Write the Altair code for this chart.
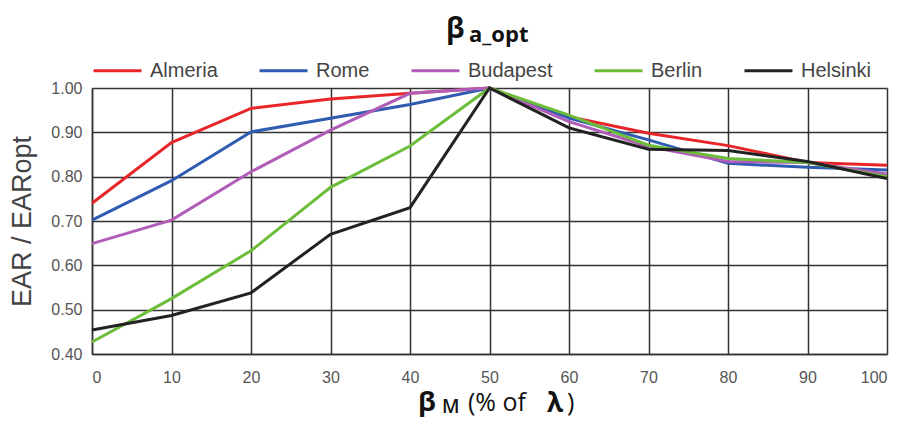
import altair as alt
import pandas as pd

x_vals = [0, 10, 20, 30, 40, 50, 60, 70, 80, 90, 100]
cities = ["Almeria", "Rome", "Budapest", "Berlin", "Helsinki"]
almeria = [0.740, 0.877, 0.954, 0.975, 0.988, 1.000, 0.935, 0.898, 0.870, 0.832, 0.826]
rome = [0.702, 0.791, 0.901, 0.932, 0.963, 1.000, 0.932, 0.883, 0.830, 0.821, 0.815]
budapest = [0.649, 0.702, 0.811, 0.905, 0.988, 1.000, 0.924, 0.868, 0.834, 0.832, 0.806]
berlin = [0.427, 0.525, 0.633, 0.776, 0.869, 1.000, 0.939, 0.871, 0.841, 0.832, 0.800]
helsinki = [0.454, 0.487, 0.538, 0.670, 0.730, 1.000, 0.910, 0.862, 0.859, 0.834, 0.796]
colors = ["#e8262a", "#2f5bb0", "#b05cb8", "#6cbd3a", "#222222"]
y_ticks = [0.4, 0.5, 0.6, 0.7, 0.8, 0.9, 1.0]

series = [almeria, rome, budapest, berlin, helsinki]
rows = []
for c, vals in zip(cities, series):
    for xv, yv in zip(x_vals, vals):
        rows.append({"x": xv, "y": yv, "city": c, "order": cities.index(c)})
df = pd.DataFrame(rows)

W, H = 795, 266
SANS = "Liberation Sans, Arial, sans-serif"
RICH = "Open Sans, sans-serif"

lines = alt.Chart(df).mark_line(strokeWidth=3).encode(
    x=alt.X("x:Q", scale=alt.Scale(domain=[0, 100], nice=False),
            axis=alt.Axis(values=x_vals, title=None, labelFont=SANS, labelFontSize=16,
                          labelColor="#555", labelPadding=15, ticks=False,
                          grid=True, gridColor="#333", gridWidth=1.5,
                          domainColor="#333", domainWidth=1.5)),
    y=alt.Y("y:Q", scale=alt.Scale(domain=[0.4, 1.0], nice=False, zero=False),
            axis=alt.Axis(values=y_ticks, format=".2f", title="EAR / EARopt",
                          titleFont=SANS, titleFontSize=27, titleFontWeight="normal",
                          titleColor="#444", titlePadding=14,
                          labelFont=SANS, labelFontSize=16, labelColor="#555",
                          labelPadding=10, ticks=False,
                          grid=True, gridColor="#333", gridWidth=1.5,
                          domainColor="#333", domainWidth=1.5)),
    color=alt.Color("city:N", scale=alt.Scale(domain=cities, range=colors),
                    sort=cities,
                    legend=alt.Legend(orient="none", legendX=0, legendY=-43,
                                      direction="horizontal", title=None,
                                      symbolType="stroke", symbolSize=2304,
                                      symbolStrokeWidth=3, labelFont=SANS,
                                      labelFontSize=20, labelColor="#444",
                                      labelOffset=7, columnPadding=35, padding=0)),
    order="order:Q",
)

def txt(s, x, y, size, weight="bold", font=RICH):
    return alt.Chart(pd.DataFrame({"t": [s]})).mark_text(
        align="left", baseline="alphabetic", font=font, fontSize=size,
        fontWeight=weight, color="#111"
    ).encode(text="t:N", x=alt.value(x), y=alt.value(y))

title_parts = [
    txt("β", 354, -50, 28),
    txt("a_opt", 377, -46, 22),
]
xtitle_parts = [
    txt("β", 326, 323, 27),
    txt("M", 350, 325, 19, 600),
    txt("(% of", 376, 323, 25, "normal"),
    txt("λ", 455, 324, 26),
    txt(")", 475, 323, 25, "normal"),
]

chart = alt.layer(lines, *title_parts, *xtitle_parts).properties(
    width=W, height=H,
    autosize=alt.AutoSizeParams(type="none"),
    padding={"left": 84, "top": 80, "right": 7, "bottom": 70},
).configure_view(stroke="#333", strokeWidth=1.5).configure(background="white")

chart.save("out.html", embed_options={"renderer": "svg", "actions": False})
